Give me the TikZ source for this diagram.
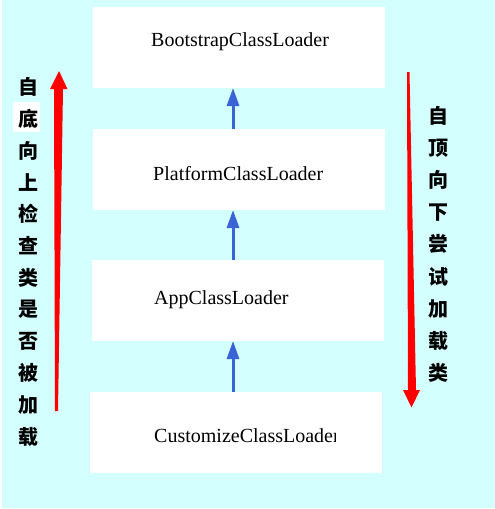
\documentclass[tikz,border=0pt]{standalone}
\usepackage{fontspec}
\setmainfont{Liberation Serif}
\newfontfamily\cjk{Noto Sans CJK SC}
\usetikzlibrary{arrows.meta}
\definecolor{bgcyan}{HTML}{D4FFFF}
\definecolor{arrblue}{HTML}{3A64D6}
\definecolor{arrred}{HTML}{FF0000}
\tikzset{
  box/.style={fill=white, draw=none, inner sep=0pt, outer sep=0pt, minimum width=292pt, minimum height=81pt},
  label/.style={anchor=base west, inner sep=0pt, font=\fontsize{20}{24}\selectfont},
  hanzi/.style={inner sep=0pt, font=\cjk\bfseries\fontsize{20}{22}\selectfont},
  uparrow/.style={draw=arrblue, line width=3pt, -{Triangle[width=12pt,length=18pt]}},
}
\begin{document}
\begin{tikzpicture}[x=1pt,y=-1pt]
\useasboundingbox (0,0) rectangle (495,509);
\fill[white] (0,0) rectangle (495,509);
\fill[bgcyan] (2,0) rectangle (495,508);
% boxes
\node[box] (b1) at (239,47.5) {};
\node[box] (b2) at (239,169.5) {};
\node[box] (b3) at (238,300.5) {};
\node[box] (b4) at (236,432.5) {};
% labels
\node[label] (t1) at (151,46) {BootstrapClassLoader};
\node[label] (t2) at (153,180) {PlatformClassLoader};
\node[label] (t3) at (154,304) {AppClassLoader};
\begin{scope}
\clip (90,392) rectangle (335,473);
\node[label] (t4) at (154,442) {CustomizeClassLoader};
\end{scope}
% blue arrows
\draw[uparrow] ([xshift=-6pt]b2.north) -- ([xshift=-6pt]b1.south);
\draw[uparrow] ([xshift=-5pt]b3.north) -- ([xshift=-6pt]b2.south);
\draw[uparrow] ([xshift=-3pt]b4.north) -- ([xshift=-5pt]b3.south);
% red arrows
\fill[arrred] (55,411) -- (54,89) -- (50,89) -- (59,71) -- (67.5,89) -- (63,89) -- (58,411) -- cycle;
\fill[arrred] (407,72) -- (409.5,72) -- (416,390) -- (420,390) -- (411.5,407.5) -- (403,390) -- (408,390) -- cycle;
% white patch behind a character
\fill[white] (13,102) rectangle (40,132);
% left text
\foreach \c [count=\i from 0] in {自,底,向,上,检,查,类,是,否,被,加,载}
  \node[hanzi] (l\i) at (28.5,{87+31.8*\i}) {\c};
% right text
\foreach \c [count=\i from 0] in {自,顶,向,下,尝,试,加,载,类}
  \node[hanzi] (r\i) at (438,{116+32.1*\i}) {\c};
\end{tikzpicture}
\end{document}
